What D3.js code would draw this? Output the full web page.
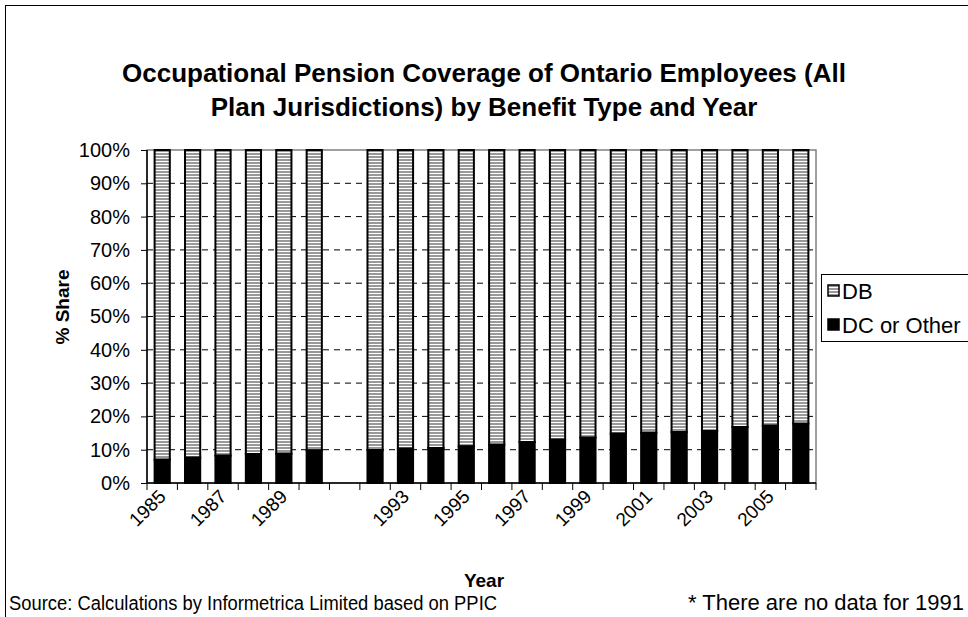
<!DOCTYPE html>
<html><head><meta charset="utf-8">
<script src="https://cdn.jsdelivr.net/npm/d3@7"></script>
<style>body{margin:0;background:#fff}svg{display:block;font-family:"Liberation Sans",Arial,sans-serif}</style>
</head><body><svg id="c" width="968" height="617"></svg>
<script>
const years = ["1985","1986","1987","1988","1989","1990","1991","1992","1993","1994","1995","1996","1997","1998","1999","2000","2001","2002","2003","2004","2005","2006"];
const dcOther = [7.0,7.6,8.2,8.7,8.8,9.8,null,9.9,10.3,10.5,11.0,11.5,12.3,13.0,13.6,14.8,15.1,15.3,15.6,16.8,17.2,17.8];
const db = dcOther.map(v => v == null ? null : 100 - v);
const tickLabels = ["1985","1987","1989","1993","1995","1997","1999","2001","2003","2005"];
const yTicks = [0,10,20,30,40,50,60,70,80,90,100];
const seriesNames = ["DB","DC or Other"];

const svg = d3.select("#c");
const L=147, R=816, T=150, B=483;
const x = d3.scaleBand().domain(years).range([L,R]).paddingInner(0.5).paddingOuter(0.25);
const y = d3.scaleLinear().domain([0,100]).range([B,T]);

const defs = svg.append("defs");
const pat = defs.append("pattern").attr("id","hatch").attr("patternUnits","userSpaceOnUse").attr("width",4).attr("height",3);
pat.append("rect").attr("width",4).attr("height",3).attr("fill","#fff");
pat.append("rect").attr("width",4).attr("height",2).attr("fill","#999");

// outer frame
svg.append("rect").attr("x",5.5).attr("y",5.5).attr("width",1100).attr("height",800).attr("fill","none").attr("stroke","#000");

// title
const title = svg.append("text").attr("text-anchor","middle").attr("font-weight","bold").attr("font-size",26).attr("fill","#000");
title.append("tspan").attr("x",484).attr("y",82).text("Occupational Pension Coverage of Ontario Employees (All");
title.append("tspan").attr("x",484).attr("y",116).text("Plan Jurisdictions) by Benefit Type and Year");

// plot area border
svg.append("rect").attr("x",L).attr("y",T).attr("width",R-L).attr("height",B-T).attr("fill","none").attr("stroke","#808080").attr("stroke-width",1.5);

// gridlines
svg.append("g").selectAll("line").data(yTicks.filter(d=>d>0&&d<100)).join("line")
  .attr("x1",L).attr("x2",R).attr("y1",d=>y(d)).attr("y2",d=>y(d))
  .attr("stroke","#000").attr("stroke-dasharray","6,5");

// bars (stacked: DC or Other at bottom, DB on top)
const idx = years.map((yr,i)=>i).filter(i=>dcOther[i]!=null);
const g = svg.append("g");
g.selectAll("rect.db").data(idx).join("rect").attr("class","db")
  .attr("x",i=>x(years[i])).attr("width",x.bandwidth())
  .attr("y",i=>y(dcOther[i]+db[i])).attr("height",i=>y(dcOther[i])-y(dcOther[i]+db[i]))
  .attr("fill","url(#hatch)").attr("stroke","#000").attr("stroke-width",2);
g.selectAll("rect.dc").data(idx).join("rect").attr("class","dc")
  .attr("x",i=>x(years[i])).attr("width",x.bandwidth())
  .attr("y",i=>y(dcOther[i])).attr("height",i=>y(0)-y(dcOther[i]))
  .attr("fill","#000").attr("stroke","#000").attr("stroke-width",2);

// y axis
const yAxis = d3.axisLeft(y).tickValues(yTicks).tickFormat(d=>d+"%").tickSize(6).tickPadding(11);
const ya = svg.append("g").attr("transform",`translate(${L},0)`).call(yAxis);
ya.select(".domain").attr("stroke","#000").attr("stroke-width",1.5).attr("d",`M-0,${T}V${B}`);
ya.selectAll("text").attr("font-size",20).attr("fill","#000").attr("font-family","Liberation Sans, Arial, sans-serif");

// x axis
const bounds = d3.range(years.length+1).map(i=>L+i*(R-L)/years.length);
svg.append("line").attr("x1",L).attr("x2",R).attr("y1",B).attr("y2",B).attr("stroke","#000").attr("stroke-width",1.5);
svg.append("g").selectAll("line").data(bounds).join("line")
  .attr("x1",d=>d).attr("x2",d=>d).attr("y1",B).attr("y2",B+7).attr("stroke","#000");
svg.append("g").selectAll("text").data(tickLabels).join("text")
  .attr("transform",d=>`translate(${x(d)+x.bandwidth()/2},${B+10}) rotate(-45)`)
  .attr("text-anchor","end").attr("dy","0.35em").attr("font-size",19).attr("fill","#000").text(d=>d);

// axis titles
svg.append("text").attr("transform","translate(69,307) rotate(-90)").attr("text-anchor","middle")
  .attr("font-weight","bold").attr("font-size",19).text("% Share");
svg.append("text").attr("x",484).attr("y",587).attr("text-anchor","middle").attr("font-weight","bold").attr("font-size",19).text("Year");

// legend
const lg = svg.append("g");
lg.append("rect").attr("x",821.5).attr("y",274.5).attr("width",200).attr("height",67).attr("fill","#fff").attr("stroke","#000");
const items = [{n:seriesNames[0],f:"url(#hatch)",y:291},{n:seriesNames[1],f:"#000",y:325}];
items.forEach(it=>{
  lg.append("rect").attr("x",828).attr("y",it.y-6).attr("width",11).attr("height",11).attr("fill",it.f).attr("stroke","#000").attr("stroke-width",1.5);
  lg.append("text").attr("x",842).attr("y",it.y+8).attr("font-size",22).text(it.n);
});

// footnotes
svg.append("text").attr("x",9).attr("y",610).attr("font-size",20).attr("textLength",488).attr("lengthAdjust","spacingAndGlyphs")
  .text("Source: Calculations by Informetrica Limited based on PPIC");
svg.append("text").attr("x",688).attr("y",610).attr("font-size",22).text("* There are no data for 1991");
</script></body></html>
